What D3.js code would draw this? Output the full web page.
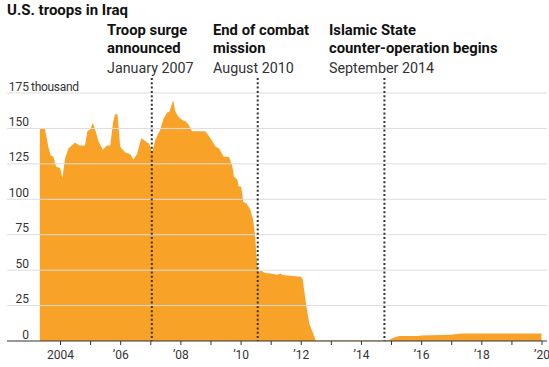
<!DOCTYPE html>
<html lang="en">
<head>
    <meta charset="UTF-8">
    <title>U.S. troops in Iraq</title>
    <script src="https://d3js.org/d3.v7.min.js"></script>
    <style>
        body { margin: 0; background: #fff; }
        text { font-family: Roboto, "Noto Sans", sans-serif; }
    </style>
</head>
<body>
    <div id="chart"></div>
    <script>
        // Troop levels (thousands); x in decimal years
        const years = [
            2003.33, 2003.5, 2003.61, 2003.69, 2003.78, 2003.87, 2004.0, 2004.08, 2004.17, 2004.28,
            2004.39, 2004.5, 2004.64, 2004.83, 2004.91, 2005.0, 2005.09, 2005.17, 2005.28, 2005.42,
            2005.56, 2005.67, 2005.76, 2005.83, 2005.91, 2006.0, 2006.17, 2006.33, 2006.44, 2006.56,
            2006.7, 2006.78, 2006.89, 2006.97, 2007.06, 2007.17, 2007.33, 2007.44, 2007.56, 2007.64,
            2007.76, 2007.83, 2007.94, 2008.06, 2008.17, 2008.28, 2008.39, 2008.83, 2009.0, 2009.17,
            2009.28, 2009.44, 2009.61, 2009.72, 2009.78, 2009.89, 2009.94, 2010.02, 2010.09, 2010.2,
            2010.33, 2010.42, 2010.48, 2010.53, 2010.58, 2010.69, 2010.8, 2011.0, 2011.22, 2011.33,
            2011.39, 2012.0, 2012.06, 2012.17, 2012.28, 2012.5, 2014.9, 2015.1, 2015.28, 2015.9,
            2016.0, 2016.7, 2017.0, 2017.35, 2020.0
        ];
        const troops = [
            150, 150, 137, 131, 130, 123, 122, 115, 129, 136,
            138, 140, 138, 138, 148, 149, 154, 149, 141, 135,
            138, 138, 154, 160, 160, 137, 133, 132, 128, 132,
            143, 142, 140, 139, 133, 142, 149, 157, 161, 162,
            170, 162, 158, 156, 155, 152.5, 148, 148, 143, 137,
            136, 130, 130, 124, 116, 114, 109, 109, 98, 97,
            92.5, 85, 75, 59.5, 49, 49.6, 48, 47.7, 46.8, 47.7,
            46.6, 45.4, 44, 27, 12.5, 0.3, 0.3, 2.5, 3.5, 3.5,
            3.8, 4.2, 4.4, 5.3, 5.3
        ];

        const yTicks = [0, 25, 50, 75, 100, 125, 150, 175];
        const xTicks = d3.range(2004, 2021);

        const events = [
            { year: 2007.05, head: ["Troop surge", "announced"], date: "January 2007", labelX: 107 },
            { year: 2010.57, head: ["End of combat", "mission"], date: "August 2010", labelX: 213 },
            { year: 2014.78, head: ["Islamic State", "counter-operation begins"], date: "September 2014", labelX: 329 }
        ];

        const W = 549, H = 367;
        const plot = { left: 7, right: 547 };

        const x = d3.scaleLinear().domain([2004, 2020]).range([60, 541.5]);
        const y = d3.scaleLinear().domain([0, 175]).range([341, 93]);

        const svg = d3.select("#chart").append("svg")
            .attr("width", W).attr("height", H);

        // title
        svg.append("text")
            .attr("x", 7).attr("y", 15)
            .attr("font-size", "15px").attr("font-weight", "bold")
            .attr("fill", "#111")
            .text("U.S. troops in Iraq");

        // area
        const pts = years.map((yr, i) => ({ yr, v: troops[i] }));
        const area = d3.area()
            .x(d => x(d.yr))
            .y0(y(0))
            .y1(d => y(d.v));

        svg.append("path")
            .datum(pts)
            .attr("fill", "#f8a227")
            .attr("d", area);

        // gridlines over the area
        svg.append("g").selectAll("line")
            .data(yTicks.filter(d => d > 0))
            .join("line")
            .attr("x1", plot.left).attr("x2", plot.right)
            .attr("y1", d => y(d)).attr("y2", d => y(d))
            .attr("stroke", "#ddd").attr("stroke-width", 1);

        // y labels
        svg.append("g").selectAll("text")
            .data(yTicks)
            .join("text")
            .attr("x", 29)
            .attr("y", d => y(d) - 2.5)
            .attr("text-anchor", "end")
            .attr("font-size", "12px")
            .attr("fill", "#333")
            .text(d => d);

        svg.append("text")
            .attr("x", 31).attr("y", y(175) - 2.5)
            .attr("font-size", "12px").attr("fill", "#333")
            .attr("letter-spacing", "-0.3px")
            .text("thousand");

        // x axis
        const xAxis = d3.axisBottom(x)
            .tickValues(xTicks)
            .tickSize(4)
            .tickPadding(5)
            .tickFormat(d => d % 2 ? "" : (d === 2004 ? "2004" : "\u2019" + String(d).slice(2)));

        const gx = svg.append("g")
            .attr("transform", `translate(0,${y(0)})`)
            .call(xAxis);
        gx.select(".domain").remove();
        gx.selectAll(".tick line").attr("stroke", "#333");
        gx.selectAll(".tick text")
            .attr("font-size", "12px")
            .attr("fill", "#333")
            .attr("font-family", "Roboto, sans-serif");

        svg.append("line")
            .attr("x1", plot.left).attr("x2", plot.right)
            .attr("y1", y(0)).attr("y2", y(0))
            .attr("stroke", "#333").attr("stroke-width", 1.2);

        // event markers
        svg.append("g").selectAll("line")
            .data(events)
            .join("line")
            .attr("x1", d => x(d.year)).attr("x2", d => x(d.year))
            .attr("y1", 78).attr("y2", y(0))
            .attr("stroke", "#333")
            .attr("stroke-width", 2)
            .attr("stroke-dasharray", "2 2.3");

        const ev = svg.append("g").selectAll("g")
            .data(events)
            .join("g");

        ev.each(function(d) {
            const g = d3.select(this);
            d.head.forEach((line, i) => {
                g.append("text")
                    .attr("x", d.labelX).attr("y", 34.5 + i * 18.5)
                    .attr("font-size", "14.8px").attr("font-weight", "bold")
                    .attr("fill", "#111")
                    .text(line);
            });
            g.append("text")
                .attr("x", d.labelX).attr("y", 72.5)
                .attr("font-size", "14.3px")
                .attr("fill", "#333")
                .text(d.date);
        });
    </script>
</body>
</html>
